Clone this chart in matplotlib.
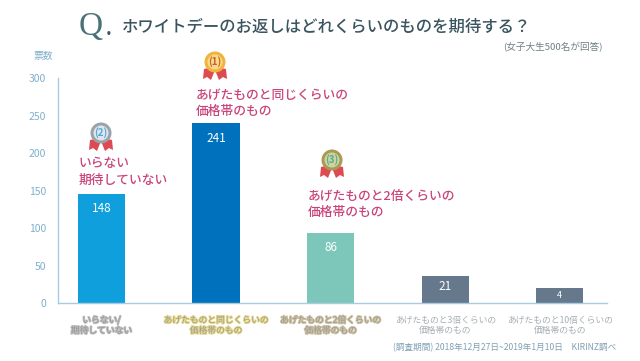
import matplotlib
matplotlib.use('Agg')
import matplotlib.pyplot as plt
import matplotlib.patheffects as pe
from matplotlib.patches import Circle, Polygon

plt.rcParams['font.family'] = ['Noto Sans CJK JP', 'DejaVu Sans']

categories = ['いらない/\n期待していない', 'あげたものと同じくらいの\n価格帯のもの', 'あげたものと2倍くらいの\n価格帯のもの',
              'あげたものと3倍くらいの\n価格帯のもの', 'あげたものと10倍くらいの\n価格帯のもの']
# bars in the picture are not to scale with their printed numbers
heights = [146, 241, 94, 36, 21]
printed = [148, 241, 86, 21, 4]
yticks = [0, 50, 100, 150, 200, 250, 300]

colors = ['#0E9FDC', '#0071BC', '#7CC7BA', '#66788C', '#66788C']
glows = ['#BEBEBE', '#E8DA88', '#CFC3A2', None, None]
label_drop = [20, 21, 19, 14, 10]
tick_color = '#7FB0CC'
pink = '#C9447A'

fig = plt.figure(figsize=(6.4, 3.61), dpi=100)
ax = fig.add_axes([58 / 640, (361 - 303.3) / 361, 548.7 / 640, 225 / 361])
x = list(range(len(heights)))
ax.bar(x, heights, width=0.413, color=colors)
ax.set_xlim(-0.38, 4.41)
ax.set_ylim(0, 300)
ax.set_yticks(yticks)
ax.set_xticks([])
ax.tick_params(axis='y', length=0, labelsize=7.5, labelcolor=tick_color, pad=8.5)
for s in ['top', 'right']:
    ax.spines[s].set_visible(False)
for s in ['left', 'bottom']:
    ax.spines[s].set_color('#A9CBE0')
    ax.spines[s].set_linewidth(1)

for i in x:
    ax.text(i, heights[i] - label_drop[i], str(printed[i]), ha='center', va='center', color='white',
            fontsize=8.5 if i < 4 else 6.5)
    t = ax.annotate(categories[i], (i, 0), xytext=(0, -9), textcoords='offset points', ha='center', va='top',
                    fontsize=6.3, color='#A6ADB2' if glows[i] is None else '#989898', linespacing=1.2)
    if glows[i]:
        t.set_path_effects([pe.withStroke(linewidth=1.4, foreground=glows[i])])

# overlay in pixel coordinates for the page furniture
ov = fig.add_axes([0, 0, 1, 1], facecolor='none')
ov.set_xlim(0, 640)
ov.set_ylim(361, 0)
ov.axis('off')

ov.text(79, 35, 'Q', family='Liberation Serif', fontsize=24, color='#4A7178', ha='left', va='baseline')
ov.text(106, 35, '.', fontsize=13, color='#3B5560', ha='left', va='baseline', weight='bold')
ov.text(122, 27.5, 'ホワイトデーのお返しはどれくらいのものを期待する？', fontsize=11.8, color='#3B5560',
        ha='left', va='center', weight='medium')
ov.text(503, 47, '(女子大生500名が回答)', fontsize=6.9, color='#6F7F86', ha='left', va='center')
ov.text(34, 56, '票数', fontsize=7, color=tick_color, ha='left', va='center')
ov.text(393, 348, '(調査期間) 2018年12月27日~2019年1月10日　KIRINZ調べ', fontsize=6.2, color='#7FA0B4',
        ha='left', va='center')

ov.text(196, 103, 'あげたものと同じくらいの\n価格帯のもの', fontsize=9.2, color=pink, ha='left', va='center',
        linespacing=1.3, weight='medium')
ov.text(79, 172, 'いらない\n期待していない', fontsize=9.2, color=pink, ha='left', va='center',
        linespacing=1.3, weight='medium')
ov.text(308, 204, 'あげたものと2倍くらいの\n価格帯のもの', fontsize=9.2, color=pink, ha='left', va='center',
        linespacing=1.3, weight='medium')


def medal(cx, cy, rim, face, num, num_color):
    for side in (-1, 1):
        pts = [(cx + side * 2, cy + 5), (cx + side * 11, cy + 7), (cx + side * 12, cy + 17),
               (cx + side * 8, cy + 15), (cx + side * 4, cy + 18), (cx, cy + 8)]
        ov.add_patch(Polygon(pts, closed=True, color='#DE4A52', lw=0, zorder=2))
    ov.add_patch(Circle((cx, cy), 10.5, color=rim, lw=0, zorder=3))
    ov.add_patch(Circle((cx, cy), 7.5, color=face, lw=0, zorder=4))
    ov.text(cx, cy, num, fontsize=7, color=num_color, ha='center', va='center', zorder=5, weight='bold')


medal(215, 62, '#F0B43C', '#F8D98A', '(1)', '#C4622A')
medal(101, 133, '#9AA3A9', '#DCE6EC', '(2)', '#5AA6D6')
medal(332, 160, '#A89A55', '#CFD3A0', '(3)', '#4FAE8E')

fig.savefig('out.png', dpi=100)
